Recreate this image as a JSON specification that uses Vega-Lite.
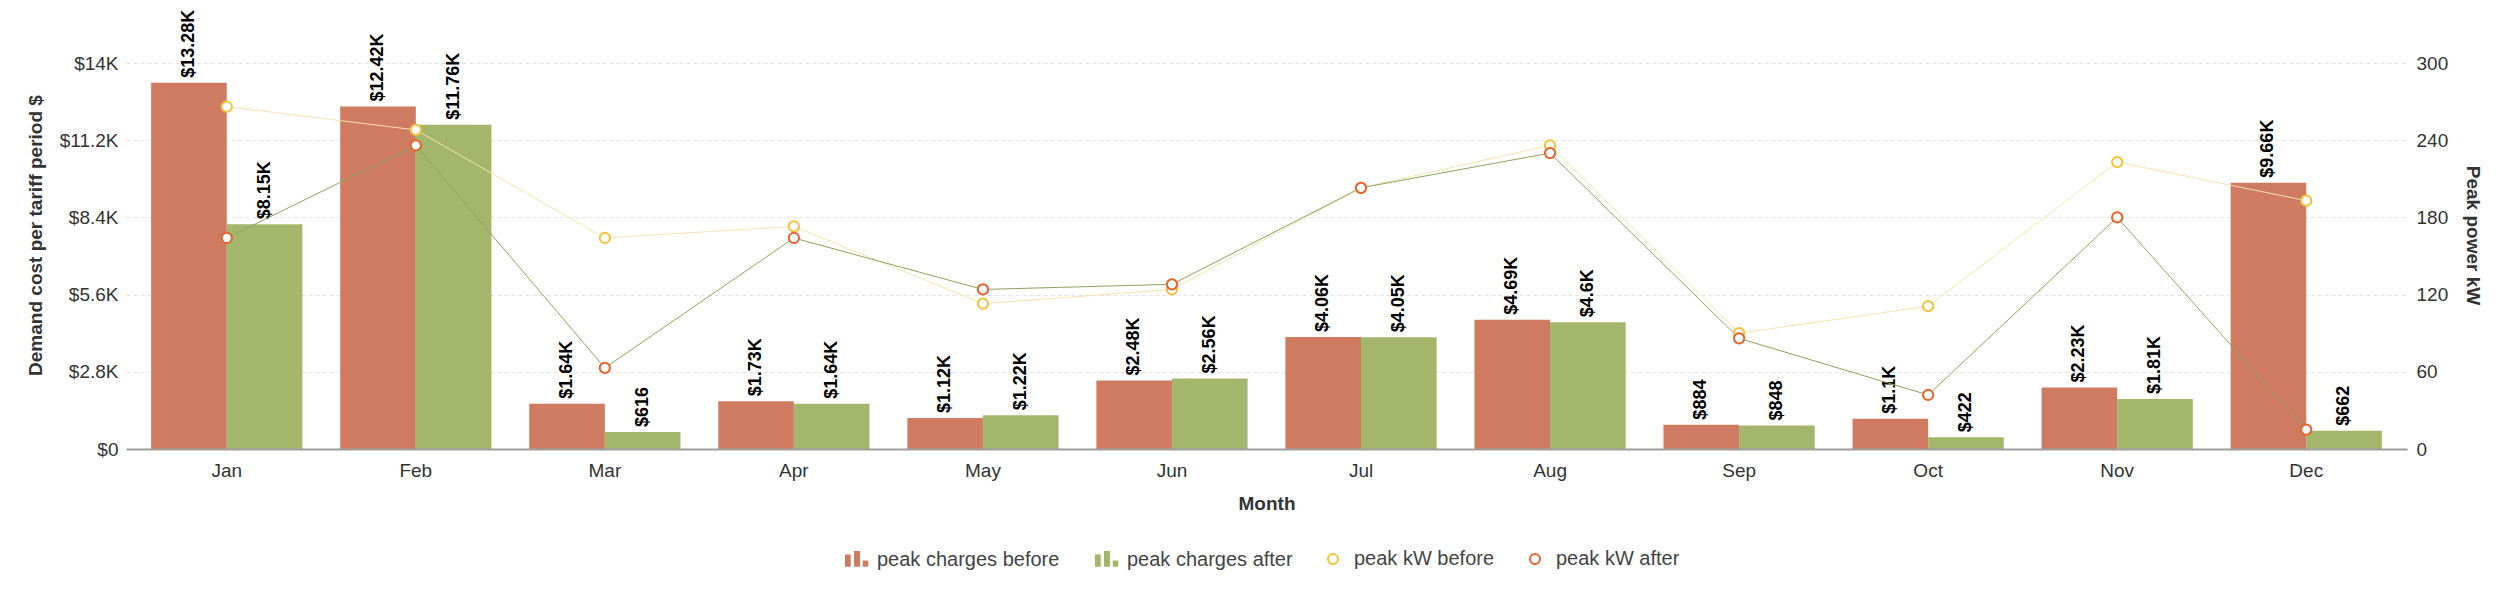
{
  "$schema": "https://vega.github.io/schema/vega-lite/v6.json",
  "width": 2281,
  "height": 386,
  "autosize": {"type": "none"},
  "padding": {"left": 126, "top": 63, "right": 99, "bottom": 149},
  "background": "white",
  "config": {
    "font": "Liberation Sans",
    "view": {"stroke": null},
    "axis": {"labelFont": "Liberation Sans", "titleFont": "Liberation Sans"}
  },
  "datasets": {
    "charges": [
      {"month": "Jan", "series": "peak charges before", "cost": 13280},
      {"month": "Jan", "series": "peak charges after", "cost": 8150},
      {"month": "Feb", "series": "peak charges before", "cost": 12420},
      {"month": "Feb", "series": "peak charges after", "cost": 11760},
      {"month": "Mar", "series": "peak charges before", "cost": 1640},
      {"month": "Mar", "series": "peak charges after", "cost": 616},
      {"month": "Apr", "series": "peak charges before", "cost": 1730},
      {"month": "Apr", "series": "peak charges after", "cost": 1640},
      {"month": "May", "series": "peak charges before", "cost": 1120},
      {"month": "May", "series": "peak charges after", "cost": 1220},
      {"month": "Jun", "series": "peak charges before", "cost": 2480},
      {"month": "Jun", "series": "peak charges after", "cost": 2560},
      {"month": "Jul", "series": "peak charges before", "cost": 4060},
      {"month": "Jul", "series": "peak charges after", "cost": 4050},
      {"month": "Aug", "series": "peak charges before", "cost": 4690},
      {"month": "Aug", "series": "peak charges after", "cost": 4600},
      {"month": "Sep", "series": "peak charges before", "cost": 884},
      {"month": "Sep", "series": "peak charges after", "cost": 848},
      {"month": "Oct", "series": "peak charges before", "cost": 1100},
      {"month": "Oct", "series": "peak charges after", "cost": 422},
      {"month": "Nov", "series": "peak charges before", "cost": 2230},
      {"month": "Nov", "series": "peak charges after", "cost": 1810},
      {"month": "Dec", "series": "peak charges before", "cost": 9660},
      {"month": "Dec", "series": "peak charges after", "cost": 662}
    ],
    "kw": [
      {"month": "Jan", "series": "peak kW before", "kw": 266},
      {"month": "Feb", "series": "peak kW before", "kw": 248},
      {"month": "Mar", "series": "peak kW before", "kw": 164},
      {"month": "Apr", "series": "peak kW before", "kw": 173},
      {"month": "May", "series": "peak kW before", "kw": 113},
      {"month": "Jun", "series": "peak kW before", "kw": 124},
      {"month": "Jul", "series": "peak kW before", "kw": 203},
      {"month": "Aug", "series": "peak kW before", "kw": 236},
      {"month": "Sep", "series": "peak kW before", "kw": 90},
      {"month": "Oct", "series": "peak kW before", "kw": 111},
      {"month": "Nov", "series": "peak kW before", "kw": 223},
      {"month": "Dec", "series": "peak kW before", "kw": 193},
      {"month": "Jan", "series": "peak kW after", "kw": 164},
      {"month": "Feb", "series": "peak kW after", "kw": 236},
      {"month": "Mar", "series": "peak kW after", "kw": 63},
      {"month": "Apr", "series": "peak kW after", "kw": 164},
      {"month": "May", "series": "peak kW after", "kw": 124},
      {"month": "Jun", "series": "peak kW after", "kw": 128},
      {"month": "Jul", "series": "peak kW after", "kw": 203},
      {"month": "Aug", "series": "peak kW after", "kw": 230},
      {"month": "Sep", "series": "peak kW after", "kw": 86},
      {"month": "Oct", "series": "peak kW after", "kw": 42},
      {"month": "Nov", "series": "peak kW after", "kw": 180},
      {"month": "Dec", "series": "peak kW after", "kw": 15}
    ]
  },
  "layer": [
    {
      "data": {"name": "charges"},
      "encoding": {
        "x": {
          "field": "month", "type": "nominal",
          "sort": ["Jan","Feb","Mar","Apr","May","Jun","Jul","Aug","Sep","Oct","Nov","Dec"],
          "scale": {"paddingInner": 0.2, "paddingOuter": 0.133},
          "axis": {
            "title": "Month", "labelAngle": 0, "labelFontSize": 19, "labelColor": "#333333",
            "labelPadding": 12, "ticks": false, "grid": false, "domain": true,
            "domainColor": "#9e9e9e", "domainWidth": 2, "zindex": 1,
            "titleFontSize": 19, "titleFontWeight": "bold", "titleColor": "#333333",
            "titleY": 54, "titleBaseline": "middle"
          }
        },
        "xOffset": {"field": "series", "type": "nominal", "sort": ["peak charges before", "peak charges after"]},
        "y": {
          "field": "cost", "type": "quantitative",
          "scale": {"domain": [0, 14000], "nice": false},
          "axis": {
            "title": "Demand cost per tariff period $",
            "values": [0, 2800, 5600, 8400, 11200, 14000],
            "labelExpr": "datum.value == 0 ? '$0' : '$' + format(datum.value / 1000, '~g') + 'K'",
            "labelFontSize": 19, "labelColor": "#333333", "labelPadding": 8,
            "ticks": false, "domain": false, "grid": true,
            "gridColor": "#e3e3e3", "gridDash": [4, 3], "gridWidth": 1,
            "titleFontSize": 19, "titleFontWeight": "bold", "titleColor": "#333333",
            "titleAngle": -90, "titleX": -91, "titleY": 172,
            "titleBaseline": "middle", "titleAlign": "center"
          }
        }
      },
      "layer": [
        {
          "mark": {"type": "bar", "opacity": 1},
          "encoding": {
            "fill": {
              "field": "series", "type": "nominal",
              "scale": {
                "domain": ["peak charges before", "peak charges after"],
                "range": ["#cf7b61", "#a3b66c"]
              },
              "legend": {
                "title": null, "orient": "none", "legendX": 718, "legendY": 484,
                "direction": "horizontal", "columns": 2, "padding": 0,
                "labelFontSize": 20, "labelColor": "#444444", "labelFont": "Liberation Sans",
                "labelOffset": 8, "columnPadding": 34, "labelLimit": 400,
                "symbolSize": 625, "symbolOpacity": 1, "symbolStrokeWidth": 0,
                "symbolType": "M-0.92,0.56L-0.92,-0.42L-0.46,-0.42L-0.46,0.56ZM-0.2,0.56L-0.2,-0.7L0.28,-0.7L0.28,0.56ZM0.5,0.56L0.5,0.06L0.94,0.06L0.94,0.56Z"
              }
            }
          }
        },
        {
          "transform": [
            {"calculate": "datum.cost >= 1000 ? '$' + format(datum.cost / 1000, '.2~f') + 'K' : '$' + format(datum.cost, 'd')", "as": "label"}
          ],
          "mark": {
            "type": "text", "angle": 270, "align": "left", "baseline": "middle",
            "dx": 5, "fontSize": 18, "fontWeight": "bold", "color": "#000000",
            "font": "Liberation Sans"
          },
          "encoding": {"text": {"field": "label", "type": "nominal"}}
        }
      ]
    },
    {
      "data": {"name": "kw"},
      "encoding": {
        "x": {
          "field": "month", "type": "nominal",
          "sort": ["Jan","Feb","Mar","Apr","May","Jun","Jul","Aug","Sep","Oct","Nov","Dec"],
          "scale": {"paddingInner": 0.2, "paddingOuter": 0.133},
          "axis": {
            "title": "Month", "labelAngle": 0, "labelFontSize": 19, "labelColor": "#333333",
            "labelPadding": 12, "ticks": false, "grid": false, "domain": true,
            "domainColor": "#9e9e9e", "domainWidth": 2, "zindex": 1,
            "titleFontSize": 19, "titleFontWeight": "bold", "titleColor": "#333333",
            "titleY": 54, "titleBaseline": "middle"
          }
        },
        "y": {
          "field": "kw", "type": "quantitative",
          "scale": {"domain": [0, 300], "nice": false},
          "axis": {
            "orient": "right",
            "title": "Peak power kW",
            "values": [0, 60, 120, 180, 240, 300],
            "format": "d",
            "labelFontSize": 19, "labelColor": "#333333", "labelPadding": 9,
            "ticks": false, "domain": false, "grid": false,
            "titleFontSize": 19, "titleFontWeight": "bold", "titleColor": "#333333",
            "titleAngle": 90, "titleX": 65, "titleY": 172,
            "titleBaseline": "middle", "titleAlign": "center"
          }
        }
      },
      "layer": [
        {
          "mark": {"type": "line", "strokeWidth": 1},
          "encoding": {
            "color": {
              "field": "series", "type": "nominal",
              "scale": {"domain": ["peak kW after", "peak kW before"], "range": ["#8ea35e", "#f6e2ad"]},
              "legend": null
            }
          }
        },
        {
          "mark": {"type": "point", "shape": "circle", "filled": true, "fill": "#ffffff", "fillOpacity": 1, "opacity": 1, "strokeWidth": 2, "size": 105},
          "encoding": {
            "stroke": {
              "field": "series", "type": "nominal",
              "scale": {
                "domain": ["peak kW before", "peak kW after"],
                "range": ["#f0c43c", "#e8622a"]
              },
              "legend": {
                "title": null, "orient": "none", "legendX": 1197, "legendY": 486,
                "direction": "horizontal", "columns": 2, "padding": 0,
                "labelFontSize": 20, "labelColor": "#444444", "labelFont": "Liberation Sans",
                "labelOffset": 11, "columnPadding": 30, "labelLimit": 400,
                "symbolSize": 100, "symbolType": "circle", "symbolOpacity": 1,
                "symbolFillColor": "#ffffff", "symbolStrokeWidth": 2
              }
            }
          }
        }
      ]
    }
  ],
  "resolve": {"scale": {"y": "independent"}}
}
